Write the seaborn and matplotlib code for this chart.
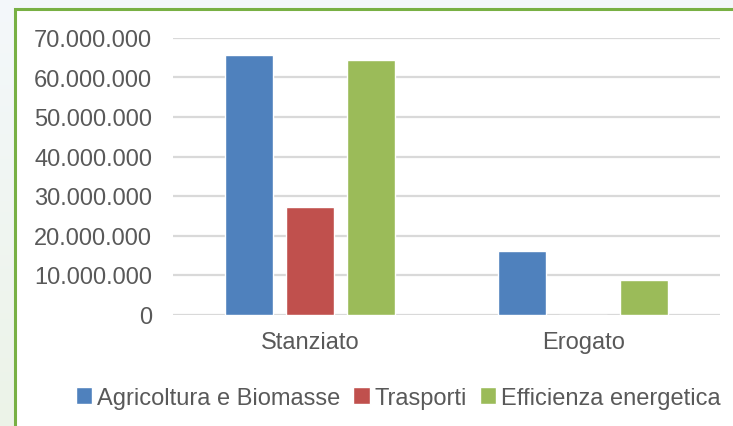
"""Stanziato vs Erogato per settore: grouped bar chart in Excel style."""
import matplotlib

matplotlib.use("Agg")
import matplotlib.pyplot as plt
import numpy as np
import pandas as pd
import seaborn as sns
from matplotlib.patches import Rectangle
from matplotlib.ticker import FuncFormatter, MultipleLocator

categories = ["Stanziato", "Erogato"]
series = ["Agricoltura e Biomasse", "Trasporti", "Efficienza energetica"]
agricoltura = [65_600_000, 16_000_000]
trasporti = [27_100_000, 0]
efficienza = [64_500_000, 8_800_000]
colors = ["#4f81bd", "#c0504d", "#9bbb59"]

TEXT = "#595959"
GRID = "#d9d9d9"

df = pd.DataFrame({
    "categoria": categories * 3,
    "serie": [s for s in series for _ in categories],
    "valore": agricoltura + trasporti + efficienza,
})

sns.set_theme(style="white")
plt.rcParams["font.family"] = ["Liberation Sans", "DejaVu Sans"]

fig = plt.figure(figsize=(7.33, 4.27), dpi=100)

# background: soft vertical gradient behind the chart frame
bg = fig.add_axes([0, 0, 1, 1], zorder=-10)
grad = np.linspace(0, 1, 256).reshape(-1, 1)
top = np.array([0xF4, 0xF8, 0xFB]) / 255
bot = np.array([0xEC, 0xF3, 0xE8]) / 255
img = top + (bot - top) * grad[..., None]
bg.imshow(img, aspect="auto", extent=[0, 1, 0, 1], origin="upper")
bg.add_patch(Rectangle((15 / 733, -0.05), 1.1, 1 - 9.5 / 427 + 0.05,
                       facecolor="white", edgecolor="#78b044", linewidth=2.2))
bg.set_xlim(0, 1)
bg.set_ylim(0, 1)
bg.axis("off")

ax = fig.add_axes([173 / 733, (427 - 315.5) / 427, (720 - 173) / 733, (315.5 - 39) / 427])
ax.set_facecolor("none")
sns.barplot(data=df, x="categoria", y="valore", hue="serie", order=categories,
            hue_order=series, palette=colors, width=0.669, gap=0.22,
            saturation=1, ax=ax, zorder=3)

ax.set_xlim(-0.5, 1.5)
ax.set_ylim(0, 70_000_000)
ax.yaxis.set_major_locator(MultipleLocator(10_000_000))
ax.yaxis.set_major_formatter(FuncFormatter(lambda v, _: f"{v:,.0f}".replace(",", ".")))
ax.grid(axis="y", color=GRID, linewidth=1.6, zorder=0)
ax.set_axisbelow(True)
for s in ax.spines.values():
    s.set_visible(False)
ax.set_xlabel("")
ax.set_ylabel("")
ax.tick_params(axis="both", length=0, labelsize=17, labelcolor=TEXT)
ax.tick_params(axis="y", pad=15)
ax.tick_params(axis="x", pad=12)

handles, labels = ax.get_legend_handles_labels()
ax.get_legend().remove()
fig.legend(handles, labels, loc="center", bbox_to_anchor=(398 / 733, 1 - 399 / 427),
           ncol=3, frameon=False, fontsize=17, labelcolor=TEXT,
           handlelength=0.7, handleheight=0.7, handletextpad=0.2,
           columnspacing=0.55, borderaxespad=0)

fig.savefig("out.png", dpi=100)
